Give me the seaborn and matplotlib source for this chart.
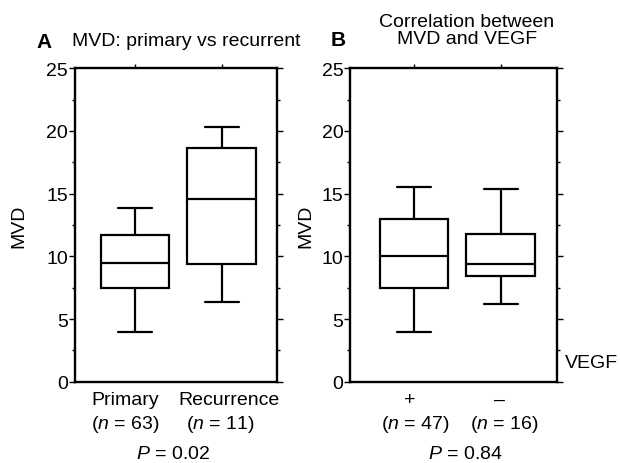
import numpy as np
import pandas as pd
import matplotlib
matplotlib.use("Agg")
import matplotlib.pyplot as plt
import matplotlib.transforms as mtransforms
from matplotlib.ticker import MultipleLocator
import seaborn as sns

# five-number summaries: whisker low, Q1, median, Q3, whisker high
groups_a = ["Primary", "Recurrence"]
stats_a = [[4.0, 7.5, 9.5, 11.7, 13.85],
           [6.35, 9.4, 14.55, 18.6, 20.3]]
n_a = [63, 11]
p_a = "0.02"

groups_b = ["+", "\u2013"]
stats_b = [[4.0, 7.5, 10.0, 12.95, 15.5],
           [6.2, 8.45, 9.35, 11.8, 15.4]]
n_b = [47, 16]
p_b = "0.84"

sns.set_style("ticks")
plt.rcParams["font.family"] = ["Liberation Sans", "DejaVu Sans"]
plt.rcParams["mathtext.fontset"] = "custom"
plt.rcParams["mathtext.rm"] = "Liberation Sans"
plt.rcParams["mathtext.it"] = "Liberation Sans:italic"
plt.rcParams["text.color"] = "black"

fs = 14


def long_form(groups, stats):
    # with five points per group the linear quartiles land exactly on the read values
    rows = []
    for g, s in zip(groups, stats):
        for v in s:
            rows.append({"group": g, "MVD": v})
    return pd.DataFrame(rows)


def panel(ax, groups, stats, counts, pval, xlim, name_dx, n_dx, p_dx, ylab_x):
    df = long_form(groups, stats)
    sns.boxplot(data=df, x="group", y="MVD", order=groups, ax=ax, whis=np.inf,
                width=0.79, color="white", linecolor="black", linewidth=1.6,
                showcaps=True, fliersize=0)
    for ln in ax.lines:
        ln.set_color("black")
    ax.set_xlim(*xlim)
    ax.set_ylim(0, 25)
    ax.yaxis.set_major_locator(MultipleLocator(5))
    ax.yaxis.set_minor_locator(MultipleLocator(2.5))
    for sp in ax.spines.values():
        sp.set_visible(True)
        sp.set_linewidth(1.7)
        sp.set_color("black")
    ax.tick_params(axis="x", bottom=False, top=True, labelbottom=False, labeltop=False,
                   direction="out", length=3, width=1, colors="black")
    ax.tick_params(axis="y", which="major", left=True, right=True, direction="out",
                   length=4, width=1, pad=1, labelsize=fs, colors="black", labelcolor="black")
    ax.tick_params(axis="y", which="minor", left=True, right=True, direction="out",
                   length=2.5, width=1, colors="black")
    ax.set_xlabel("")
    ax.set_ylabel("MVD", fontsize=fs, color="black")
    ax.yaxis.set_label_coords(ylab_x, 0.5)
    # category names and counts under the boxes (nudged in points like the original)
    for i, (g, n) in enumerate(zip(groups, counts)):
        t1 = mtransforms.offset_copy(
            mtransforms.blended_transform_factory(ax.transData, ax.transAxes),
            fig=ax.figure, x=name_dx[i], y=0, units="dots")
        ax.text(i, -0.056, g, transform=t1, ha="center", va="center", fontsize=fs)
        t2 = mtransforms.offset_copy(
            mtransforms.blended_transform_factory(ax.transData, ax.transAxes),
            fig=ax.figure, x=n_dx[i], y=0, units="dots")
        ax.text(i, -0.133, "($\\mathit{n}$ = %d)" % n, transform=t2,
                ha="center", va="center", fontsize=fs)
    t3 = mtransforms.offset_copy(ax.transAxes, fig=ax.figure, x=p_dx, y=0, units="dots")
    ax.text(0.5, -0.228, "$\\mathit{P}$ = " + pval, transform=t3,
            ha="center", va="center", fontsize=fs)


fig = plt.figure(figsize=(6.2, 4.64), dpi=100)
ax_a = fig.add_axes([0.121, 0.175, 0.325, 0.676])
ax_b = fig.add_axes([0.565, 0.175, 0.333, 0.676])

panel(ax_a, groups_a, stats_a, n_a, p_a, (-0.69, 1.63),
      name_dx=[-10, 7], n_dx=[-10, -2], p_dx=-3, ylab_x=-0.235)
panel(ax_b, groups_b, stats_b, n_b, p_b, (-0.74, 1.65),
      name_dx=[-4, -1], n_dx=[1, 4], p_dx=12, ylab_x=-0.175)

fig.text(44 / 620, 1 - 42 / 464, "A", fontsize=fs + 1, fontweight="bold", ha="center", va="center")
fig.text(72 / 620, 1 - 42 / 464, "MVD: primary vs recurrent", fontsize=fs, ha="left", va="center")
fig.text(338 / 620, 1 - 41 / 464, "B", fontsize=fs + 1, fontweight="bold", ha="center", va="center")
fig.text(467 / 620, 1 - 31 / 464, "Correlation between\nMVD and VEGF", fontsize=fs,
         ha="center", va="center", linespacing=1.0)
fig.text(565 / 620, 1 - 363 / 464, "VEGF", fontsize=fs, ha="left", va="center")

fig.savefig("out.png", dpi=100, facecolor="white")
